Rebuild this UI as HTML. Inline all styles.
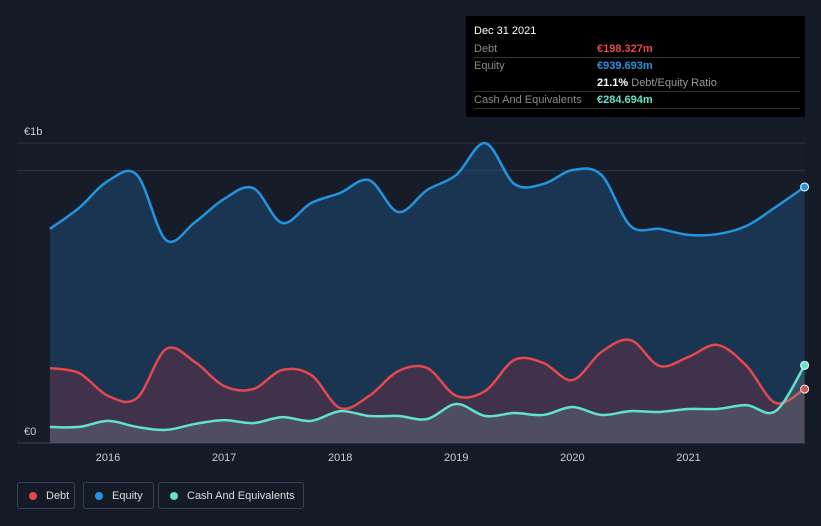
<!DOCTYPE html>
<html><head><meta charset="utf-8"><style>
body{margin:0;background:#151b26;font-family:"Liberation Sans",sans-serif;}
#wrap{position:relative;width:821px;height:526px;overflow:hidden;background:#151b26;}
svg{position:absolute;left:0;top:0}
.tt{position:absolute;left:466px;top:16px;width:339px;height:101px;background:#000;color:#ccc;font-size:11px}
.row{position:absolute;left:8px;width:326px;border-bottom:1px solid #333;height:16px;line-height:16px}
.lbl{color:#8a8a8a}
.val{position:absolute;left:123px;top:0;font-weight:bold}
.leg{position:absolute;top:482px;height:27px;border:1px solid #3a4150;border-radius:3px;color:#ddd;font-size:11px;line-height:27px;box-sizing:border-box;padding-left:28px}
.dot{position:absolute;left:11px;top:9px;width:8px;height:8px;border-radius:50%}
</style></head><body>
<div id="wrap">
<svg id="chart" width="821" height="526"></svg>
<div class="tt">
 <div style="position:absolute;left:8px;top:9px;color:#fff;font-size:11px">Dec 31 2021</div>
 <div class="row" style="top:25px"><span class="lbl">Debt</span><span class="val" style="color:#e5484d">€198.327m</span></div>
 <div class="row" style="top:42px;border-bottom:none"><span class="lbl">Equity</span><span class="val" style="color:#2394df">€939.693m</span></div>
 <div class="row" style="top:59px"><span class="val" style="color:#fff">21.1% <span style="color:#999;font-weight:normal">Debt/Equity Ratio</span></span></div>
 <div class="row" style="top:76px"><span class="lbl">Cash And Equivalents</span><span class="val" style="color:#5fe3cd">€284.694m</span></div>
</div>
<div class="leg" style="left:17px;width:58px"><span class="dot" style="background:#e5484d"></span>Debt</div>
<div class="leg" style="left:83px;width:71px"><span class="dot" style="background:#2394df"></span>Equity</div>
<div class="leg" style="left:158px;width:146px"><span class="dot" style="background:#5fe3cd"></span>Cash And Equivalents</div>
</div>
<script>
const dates=[];for(let i=0;i<27;i++)dates.push(2015.5+i*0.25);
const equity=[786,863,962,984,745,811,896,936,808,881,918,965,848,929,984,1101,951,951,1002,984,797,786,764,767,797,866,940];
const debt=[275,257,173,165,345,297,209,198,268,250,128,173,264,275,173,191,305,294,231,334,378,283,316,360,283,147,198];
const cash=[59,59,81,59,48,70,84,73,95,81,117,99,99,88,143,99,110,103,132,103,117,114,125,125,139,117,285];
const yearTicks=[2016,2017,2018,2019,2020,2021];
const yTickLabels=["€0","€1b"];
const X=t=>108+(t-2016)*116.1;
const Y=v=>443-v*0.2724;
const svg=document.getElementById('chart');
const NS='http://www.w3.org/2000/svg';
function mk(tag,attrs){const e=document.createElementNS(NS,tag);for(const k in attrs)e.setAttribute(k,attrs[k]);svg.appendChild(e);return e;}
let bg=mk('rect',{x:17,y:143,width:788,height:300,fill:'#161d29'});


let g1=mk('line',{x1:17,x2:805,y1:143,y2:143,stroke:'#2c3442'});


let g2=mk('line',{x1:17,x2:805,y1:Y(1000),y2:Y(1000),stroke:'#2c3442'});


let g3=mk('line',{x1:17,x2:805,y1:443,y2:443,stroke:'#3a4250'});


function pathD(vals){const p=vals.map((v,i)=>[X(dates[i]),Y(v)]);let d=`M${p[0][0]},${p[0][1]}`;
 for(let i=0;i<p.length-1;i++){const p0=p[i-1]||p[i],p1=p[i],p2=p[i+1],p3=p[i+2]||p2;
 const c1=[p1[0]+(p2[0]-p0[0])/6,p1[1]+(p2[1]-p0[1])/6],c2=[p2[0]-(p3[0]-p1[0])/6,p2[1]-(p3[1]-p1[1])/6];
 d+=`C${c1[0]},${c1[1]} ${c2[0]},${c2[1]} ${p2[0]},${p2[1]}`;}return d;}
const series=[[equity,'#2394df','rgba(30,90,145,0.4)','equity'],[debt,'#e5484d','rgba(140,45,65,0.35)','debt'],[cash,'#5fe3cd','rgba(120,150,150,0.28)','cash']];
series.forEach(([vals,col,fill,n])=>{const d=pathD(vals);const x0=X(dates[0]),x1=X(dates[dates.length-1]);
 let a=mk('path',{d:d+`L${x1},443L${x0},443Z`,fill:fill});
 
 
 let l=mk('path',{d:d,fill:'none',stroke:col,'stroke-width':2.5});
 
 
 let c=mk('circle',{cx:x1,cy:Y(vals[vals.length-1]),r:4,fill:col,stroke:'#fff','stroke-width':1});
 
 
});
yearTicks.forEach(t=>{let tx=mk('text',{x:X(t),y:461,fill:'#ccc','font-size':11,'text-anchor':'middle','font-family':'Liberation Sans'});tx.textContent=t;
 
 });
[[0,435],[1,135]].forEach(([i,y])=>{let tx=mk('text',{x:24,y:y,fill:'#ccc','font-size':11,'font-family':'Liberation Sans'});tx.textContent=yTickLabels[i];
 
 });
</script>
</body></html>
